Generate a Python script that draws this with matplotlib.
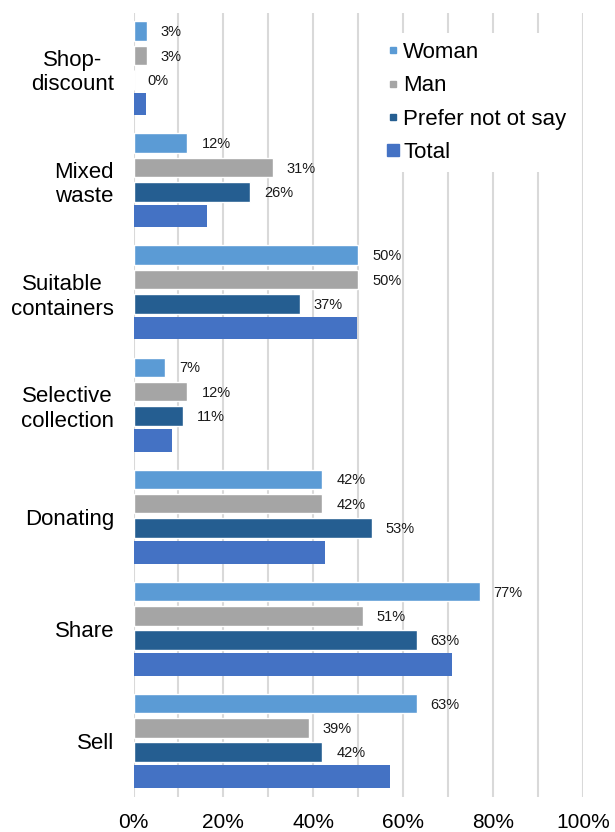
import numpy as np
import matplotlib
matplotlib.use("Agg")
import matplotlib.pyplot as plt
from matplotlib.lines import Line2D

plt.rcParams['font.family'] = ['Liberation Sans', 'DejaVu Sans']

# Survey answers, share of respondents (%)
categories = ["Shop-\ndiscount", "Mixed\nwaste", "Suitable\ncontainers",
              "Selective\ncollection", "Donating", "Share", "Sell"]
woman = [3, 12, 50, 7, 42, 77, 63]
man = [3, 31, 50, 12, 42, 51, 39]
prefer_not = [0, 26, 37, 11, 53, 63, 42]
total = [2.7, 16.4, 49.7, 8.5, 42.6, 70.8, 57.1]

series_names = ["Woman", "Man", "Prefer not ot say", "Total"]
colors = ["#5B9BD5", "#A5A5A5", "#255E91", "#4472C4"]

fig = plt.figure(figsize=(6.15, 8.32), dpi=100)
ax = fig.add_axes([0.2171, 0.0421, 0.7309, 0.9426])

y = np.arange(len(categories))
offsets = [-0.335, -0.118, 0.099, 0.315]

# the three groups get a thin white outline, total is a plain wider bar
for vals, off, col in zip([woman, man, prefer_not], offsets[:3], colors[:3]):
    fracs = np.array(vals) / 100
    ax.barh(y + off, fracs, height=0.175, color=col, edgecolor="white", linewidth=1, zorder=3)
    for yi, v, f in zip(y, vals, fracs):
        ax.text(f + 0.031, yi + off + 0.01, f"{v}%", va="center", ha="left",
                fontsize=10.5, color="#1a1a1a", zorder=4)

ax.barh(y + offsets[3], np.array(total) / 100, height=0.203, color=colors[3], linewidth=0, zorder=3)

ax.set_xlim(0, 1)
ax.set_ylim(len(categories) - 0.5, -0.5)

xt = np.arange(0, 1.001, 0.1)
ax.set_xticks(xt)
ax.set_xticklabels([f"{int(round(v * 100))}%" if i % 2 == 0 else "" for i, v in enumerate(xt)],
                   fontsize=15)
ax.set_yticks(y)
ax.set_yticklabels(categories, fontsize=16)
for lbl in ax.get_yticklabels():
    lbl.set_multialignment("center")
ax.tick_params(axis="both", length=0)
ax.tick_params(axis="x", pad=11.5)
ax.tick_params(axis="y", pad=14)

ax.grid(axis="x", color="#D9D9D9", linewidth=1.5, zorder=0)
ax.set_axisbelow(True)
for s in ax.spines.values():
    s.set_visible(False)

handles = [Line2D([], [], marker="s", linestyle="none", color=c, markersize=ms)
           for c, ms in zip(colors, [5, 5, 5, 8.6])]
leg = fig.legend(handles, series_names, loc="upper left",
                 bbox_to_anchor=(378 / 615, 1 - 33 / 832), fontsize=16,
                 frameon=True, facecolor="white", edgecolor="none", framealpha=1,
                 handlelength=0.55, handletextpad=0.18, labelspacing=0.56,
                 borderpad=0.4, borderaxespad=0)
leg.get_frame().set_boxstyle("square", pad=0)

fig.savefig("out.png", dpi=100)
